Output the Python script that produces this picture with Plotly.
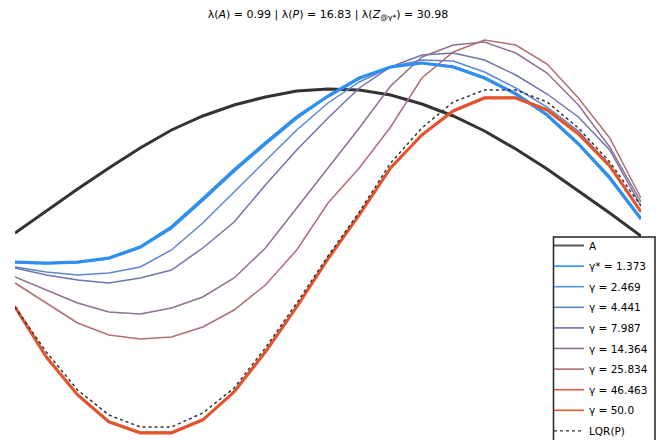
import plotly.graph_objects as go

# time steps of the trajectories
steps = list(range(21))

# open-loop response of A
traj_A = [0.67, 0.89, 1.11, 1.32, 1.52, 1.70, 1.84, 1.95, 2.03, 2.09, 2.11,
          2.10, 2.05, 1.96, 1.84, 1.69, 1.51, 1.31, 1.09, 0.87, 0.64]

# closed-loop responses for each gamma
gamma_labels = ["γ* = 1.373", "γ = 2.469", "γ = 4.441", "γ = 7.987",
                "γ = 14.364", "γ = 25.834", "γ = 46.463", "γ = 50.0"]
traj_g1373 = [0.38, 0.37, 0.38, 0.42, 0.53, 0.73, 1.01, 1.30, 1.57, 1.83, 2.04,
              2.22, 2.33, 2.37, 2.33, 2.22, 2.06, 1.85, 1.56, 1.22, 0.81]
traj_g2469 = [0.37, 0.36, 0.37, 0.41, 0.52, 0.71, 0.99, 1.28, 1.55, 1.81, 2.03,
              2.21, 2.33, 2.37, 2.34, 2.23, 2.07, 1.86, 1.57, 1.24, 0.82]
traj_g4441 = [0.33, 0.28, 0.25, 0.27, 0.33, 0.50, 0.77, 1.08, 1.40, 1.70, 1.97,
              2.18, 2.33, 2.40, 2.39, 2.28, 2.12, 1.93, 1.69, 1.35, 0.88]
traj_g7987 = [0.32, 0.25, 0.20, 0.17, 0.22, 0.30, 0.52, 0.78, 1.15, 1.50, 1.82,
              2.12, 2.33, 2.45, 2.47, 2.40, 2.25, 2.06, 1.83, 1.50, 0.94]
traj_g14364 = [0.23, 0.10, -0.03, -0.12, -0.14, -0.08, 0.03, 0.22, 0.52, 0.92, 1.32,
               1.72, 2.14, 2.43, 2.55, 2.58, 2.47, 2.27, 1.95, 1.53, 0.98]
traj_g25834 = [0.17, -0.03, -0.23, -0.35, -0.39, -0.37, -0.27, -0.10, 0.15, 0.50, 0.97,
               1.32, 1.73, 2.22, 2.48, 2.60, 2.55, 2.36, 2.02, 1.62, 1.02]
traj_g46463 = [-0.06, -0.56, -0.94, -1.21, -1.32, -1.32, -1.19, -0.91, -0.51, -0.06, 0.42,
               0.86, 1.33, 1.66, 1.90, 2.03, 2.03, 1.91, 1.67, 1.35, 0.89]
traj_g50 = [-0.07, -0.57, -0.95, -1.22, -1.33, -1.33, -1.20, -0.92, -0.52, -0.07, 0.41,
            0.85, 1.32, 1.65, 1.89, 2.02, 2.02, 1.90, 1.66, 1.34, 0.88]

# LQR response of P
traj_lqr = [-0.07, -0.52, -0.90, -1.15, -1.27, -1.27, -1.13, -0.88, -0.48, -0.03, 0.44,
            0.88, 1.37, 1.72, 1.98, 2.10, 2.10, 1.98, 1.72, 1.38, 0.94]

gamma_trajs = [traj_g1373, traj_g2469, traj_g4441, traj_g7987,
               traj_g14364, traj_g25834, traj_g46463, traj_g50]
gamma_colors = ["#2e8ff0", "#4f9be8", "#5b86d0", "#6f74ad",
                "#8f7092", "#b06f72", "#d65f45", "#e4532c"]
gamma_widths = [3.2, 1.5, 1.5, 1.5, 1.5, 1.5, 1.5, 3.0]

W, H = 672, 440
ML, MR, MT, MB = 15, 31, 20, 0
PW, PH = W - ML - MR, H - MT - MB


def px_to_paper_x(px):
    return (px - ML) / PW


def px_to_paper_y(py):
    return (H - MB - py) / PH


fig = go.Figure()

# curves
fig.add_trace(go.Scatter(x=steps, y=traj_A, mode="lines", name="A", showlegend=False,
                         line=dict(color="#333333", width=3)))
order = [1, 2, 3, 4, 5, 6, 0, 7]  # thin lines first, thick ones on top
for k in order:
    fig.add_trace(go.Scatter(x=steps, y=gamma_trajs[k], mode="lines",
                             name=gamma_labels[k], showlegend=False,
                             line=dict(color=gamma_colors[k], width=gamma_widths[k])))
fig.add_trace(go.Scatter(x=steps, y=traj_lqr, mode="lines", name="LQR(P)",
                         showlegend=False,
                         line=dict(color="#333333", width=1.5, dash="dot")))

# legend entries, all with thin sample lines
legend_items = [("A", "#555555", "solid", 2.0)]
legend_items += [(gamma_labels[k], gamma_colors[k], "solid", 1.6) for k in range(8)]
legend_items += [("LQR(P)", "#333333", "dot", 1.2)]
for i, (label, color, dash, width) in enumerate(legend_items):
    fig.add_trace(go.Scatter(x=[None], y=[None], mode="lines", name=label,
                             legendgroup="item%02d" % i, legendrank=i + 1,
                             line=dict(color=color, width=width, dash=dash)))

# legend frame (runs off the bottom edge of the figure)
fig.add_shape(type="rect", xref="paper", yref="paper", layer="above",
              x0=px_to_paper_x(553.5), x1=px_to_paper_x(655),
              y0=px_to_paper_y(450), y1=px_to_paper_y(237),
              fillcolor="white", line=dict(color="#222222", width=1.5))

fig.update_layout(
    width=W, height=H,
    margin=dict(l=ML, r=MR, t=MT, b=MB, autoexpand=False),
    paper_bgcolor="white", plot_bgcolor="white",
    font=dict(family="DejaVu Sans", size=10.5, color="black"),
    title=dict(
        text="λ(<i>A</i>) = 0.99 | λ(<i>P</i>) = 16.83 | λ(<i>Z</i><sub>@γ*</sub>) = 30.98",
        x=0.5, xref="paper", xanchor="center",
        y=1 - 14 / H, yref="container", yanchor="middle",
        font=dict(size=11, color="black"),
    ),
    xaxis=dict(range=[0, 20], visible=False),
    yaxis=dict(range=[-1.4, 2.8], visible=False),
    showlegend=True,
    legend=dict(
        x=px_to_paper_x(549), xref="paper", xanchor="left",
        y=px_to_paper_y(231), yref="paper", yanchor="top",
        bgcolor="rgba(0,0,0,0)", borderwidth=0,
        font=dict(size=10.5, color="black"),
        itemwidth=30, traceorder="grouped", tracegroupgap=1.6,
    ),
)

fig.write_html("out.html")
